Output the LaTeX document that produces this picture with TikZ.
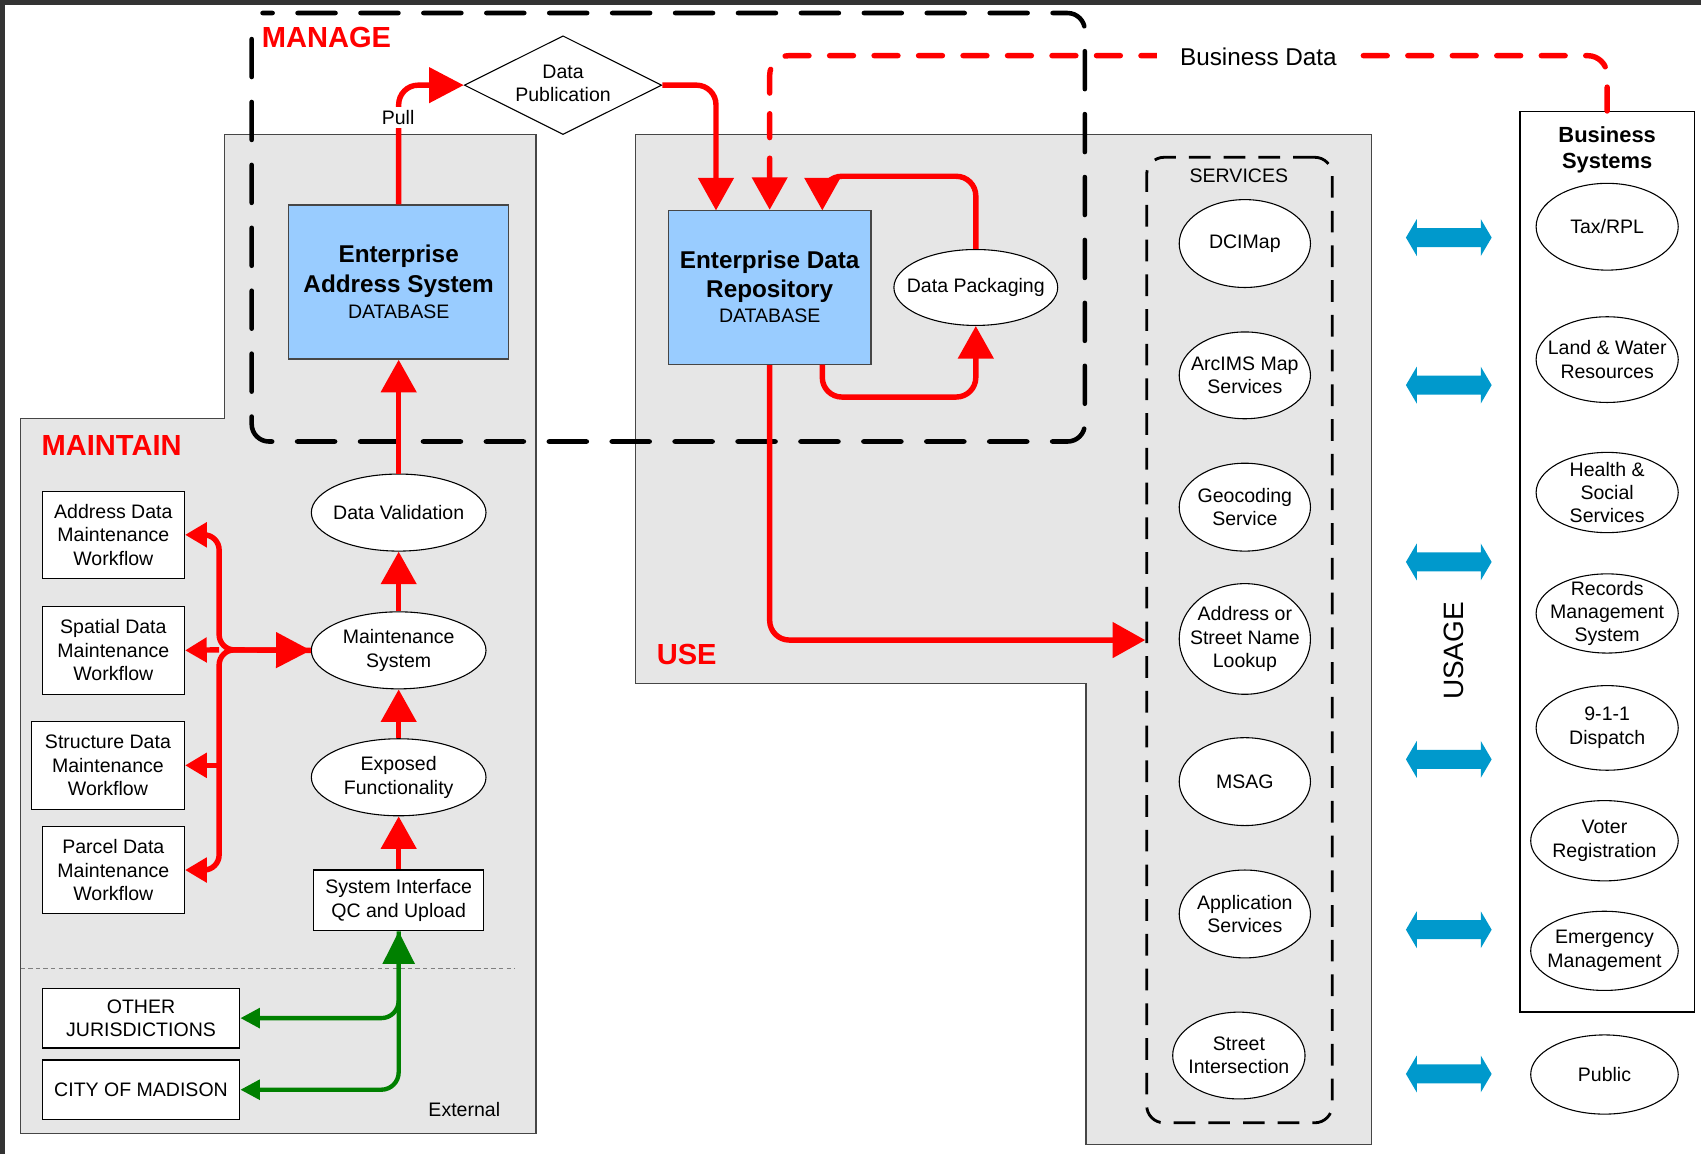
\documentclass[tikz,border=0pt]{standalone}
\usepackage{fontspec}
\setmainfont{Liberation Sans}
\usetikzlibrary{arrows.meta,shapes.geometric}
\definecolor{rd}{RGB}{255,0,0}
\definecolor{gr}{RGB}{0,128,0}
\definecolor{bl}{RGB}{0,153,204}
\definecolor{lb}{RGB}{153,204,255}
\definecolor{rg}{RGB}{230,230,230}
\definecolor{dk}{RGB}{51,51,51}
\definecolor{rb}{RGB}{70,70,70}
\newcommand\bluearrow[1]{%
  \fill[bl] (1296,#1) -- (1306,{#1-17}) -- (1306,{#1-8.75}) -- (1365,{#1-8.75}) -- (1365,{#1-17}) -- (1375,#1)
   -- (1365,{#1+17}) -- (1365,{#1+8.75}) -- (1306,{#1+8.75}) -- (1306,{#1+17}) -- cycle;}
\begin{document}
\begin{tikzpicture}[x=0.5pt,y=-0.5pt,
  tx/.style={font=\fontsize{9}{10.8}\selectfont, align=center, inner sep=0pt},
  bf/.style={font=\bfseries\fontsize{11.2}{13.5}\selectfont, align=center, inner sep=0pt},
  lbl/.style={text=rd, font=\bfseries\fontsize{13.4}{16}\selectfont, inner sep=0pt},
  ell/.style={draw=black, line width=0.5pt, ellipse, fill=white, inner sep=0pt},
  box/.style={draw=black, line width=0.6pt, fill=white, inner sep=0pt, align=center, font=\fontsize{9}{10.8}\selectfont},
  db/.style={draw=rb, line width=0.6pt, fill=lb, inner sep=0pt},
  region/.style={draw=rb, line width=0.6pt, fill=rg},
  rl/.style={draw=rd, line width=2.5pt},
  gl/.style={draw=gr, line width=2pt},
  bigtip/.style={-{Triangle[width=16pt,length=15pt]}},
  mdash/.style={draw=black, line width=2.1pt, line cap=round, dash pattern=on 17.5pt off 11.5pt},
  sdash/.style={draw=black, line width=1.3pt, dash pattern=on 10pt off 6pt},
  rdash/.style={draw=rd, line width=2.5pt, line cap=round, dash pattern=on 11pt off 9.5pt}]
\useasboundingbox (0,0) rectangle (1568,1064);
\fill[white] (0,0) rectangle (1568,1064);
\fill[dk] (0,0) rectangle (1568,5);
\fill[dk] (0,0) rectangle (5,1064);

% regions
\draw[region] (207,124) -- (494,124) -- (494,1045) -- (19,1045) -- (19,386) -- (207,386) -- cycle;
\draw[region] (586,124) -- (1264,124) -- (1264,1055) -- (1001,1055) -- (1001,630) -- (586,630) -- cycle;
\draw[gray, line width=0.6pt, dash pattern=on 2pt off 1.5pt] (19,893) -- (475,893);

% manage box
\draw[mdash, rounded corners=8pt] (232,36) -- (232,407) -- (1000,407) -- (1000,12) -- (242,12);

% labels
\node[lbl, anchor=west] (manage) at (241,35) {MANAGE};
\node[lbl, anchor=west] (maintain) at (38,411) {MAINTAIN};
\node[lbl, anchor=west] (use) at (605,603) {USE};
\node[rotate=90, font=\fontsize{12.9}{15}\selectfont, inner sep=0pt] (usage) at (1340,600) {USAGE};
\node[tx] (ext) at (428,1023) {External};

% services box
\node[sdash, rounded corners=8pt, minimum width=85.5pt, minimum height=445pt] (svc) at (1142.5,590) {};
\node[tx] (svct) at (1142,162) {SERVICES};

% business systems box
\node[draw=black, line width=0.7pt, fill=white, minimum width=80.5pt, minimum height=415pt, inner sep=0pt] (bs) at (1481.5,518) {};
\node[font=\bfseries\fontsize{10.1}{12}\selectfont, align=center, inner sep=0pt] (bst) at (1481.5,138) {Business\\Systems};

% databases
\node[db, minimum width=101.5pt, minimum height=71pt] (eas) at (367.5,260) {};
\node[bf] (eas1) at (367.5,250) {Enterprise\\Address System};
\node[tx] (eas2) at (367.5,287) {DATABASE};
\node[db, minimum width=93.5pt, minimum height=71pt] (edr) at (709.5,265) {};
\node[bf] (edr1) at (709.5,255) {Enterprise Data\\Repository};
\node[tx] (edr2) at (709.5,291) {DATABASE};

% diamond
\node[draw=black, line width=0.5pt, diamond, fill=white, inner sep=0pt, minimum width=91pt, minimum height=45.5pt] (dp) at (519,78.5) {};
\node[tx] (dpt) at (519,77) {Data\\Publication};

% data packaging
\node[ell, minimum width=75.5pt, minimum height=35pt] (dpk) at (899.5,265) {};
\node[tx] (dpkt) at (899.5,265) {Data Packaging};

% maintain column
\node[ell, minimum width=80.5pt, minimum height=35.5pt] (dv) at (367.5,472.5) {};
\node[tx] (dvt) at (dv) {Data Validation};
\node[ell, minimum width=80.5pt, minimum height=35.5pt] (ms) at (367.5,599.5) {};
\node[tx] (mst) at (ms) {Maintenance\\System};
\node[ell, minimum width=80.5pt, minimum height=35.5pt] (ef) at (367.5,716.5) {};
\node[tx] (eft) at (ef) {Exposed\\Functionality};
\node[box, minimum width=78.5pt, minimum height=28pt] (si) at (367.5,830) {System Interface\\QC and Upload};

\node[box, minimum width=65.5pt, minimum height=40pt] (addr) at (104.5,493) {Address Data\\Maintenance\\Workflow};
\node[box, minimum width=65.5pt, minimum height=40.5pt] (spat) at (104.5,599.5) {Spatial Data\\Maintenance\\Workflow};
\node[box, minimum width=70.5pt, minimum height=40.5pt] (struc) at (99.5,705.5) {Structure Data\\Maintenance\\Workflow};
\node[box, minimum width=65.5pt, minimum height=40pt] (parc) at (104.5,802) {Parcel Data\\Maintenance\\Workflow};
\node[box, minimum width=91pt, minimum height=27.5pt] (oth) at (130,938.5) {OTHER\\JURISDICTIONS};
\node[box, minimum width=91pt, minimum height=27.5pt] (city) at (130,1004.5) {CITY OF MADISON};

% services
\node[ell, minimum width=60.5pt, minimum height=40.5pt] (dci) at (1147.5,224.5) {};
\node[tx] (dcit) at (dci) {DCIMap};
\node[ell, minimum width=60.5pt, minimum height=40pt] (arc) at (1147.5,346) {};
\node[tx] (arct) at (arc) {ArcIMS Map\\Services};
\node[ell, minimum width=60.5pt, minimum height=40.5pt] (geo) at (1147.5,467.5) {};
\node[tx] (geot) at (geo) {Geocoding\\Service};
\node[ell, minimum width=60.5pt, minimum height=51pt] (addl) at (1147.5,589) {};
\node[tx] (addlt) at (addl) {Address or\\Street Name\\Lookup};
\node[ell, minimum width=60.5pt, minimum height=40.5pt] (msag) at (1147.5,720.5) {};
\node[tx] (msagt) at (msag) {MSAG};
\node[ell, minimum width=60.5pt, minimum height=40.5pt] (app) at (1147.5,842.5) {};
\node[tx] (appt) at (app) {Application\\Services};
\node[ell, minimum width=61pt, minimum height=40pt] (sti) at (1142,973) {};
\node[tx] (stit) at (sti) {Street\\Intersection};

% business systems
\node[ell, minimum width=65.5pt, minimum height=40pt] (tax) at (1481.5,209) {};
\node[tx] (taxt) at (tax) {Tax/RPL};
\node[ell, minimum width=65.5pt, minimum height=39.5pt] (land) at (1481.5,331.5) {};
\node[tx] (landt) at (land) {Land \& Water\\Resources};
\node[ell, minimum width=65.5pt, minimum height=37pt] (health) at (1481.5,454) {};
\node[tx] (healtht) at (health) {Health \&\\Social\\Services};
\node[ell, minimum width=65.5pt, minimum height=36.5pt] (rec) at (1481.5,565.5) {};
\node[tx] (rect) at (rec) {Records\\Management\\System};
\node[ell, minimum width=65.5pt, minimum height=39pt] (disp) at (1481.5,671) {};
\node[tx] (dispt) at (disp) {9-1-1\\Dispatch};
\node[ell, minimum width=68pt, minimum height=37pt] (voter) at (1479,775) {};
\node[tx] (votert) at (voter) {Voter\\Registration};
\node[ell, minimum width=68pt, minimum height=36.5pt] (emerg) at (1479,876.5) {};
\node[tx] (emergt) at (emerg) {Emergency\\Management};
\node[ell, minimum width=68pt, minimum height=36.5pt] (pub) at (1479,990.5) {};
\node[tx] (pubt) at (pub) {Public};

% blue usage arrows
\bluearrow{219}
\bluearrow{355}
\bluearrow{518}
\bluearrow{700}
\bluearrow{857}
\bluearrow{990}

% coordinates
\coordinate (bus) at (202,599);
\coordinate (e1) at (660,194);
\coordinate (e2) at (758,194);
\coordinate (e3) at (758,336);

% red connectors
\draw[rl, bigtip] (ms.north) -- (dv.south);
\draw[rl, bigtip] (ef.north) -- (ms.south);
\draw[rl, bigtip] (si.north) -- (ef.south);
\draw[rl, bigtip] (dv.north) -- (eas.south);
\draw[rl, rounded corners=9pt, -{Triangle[width=16pt,length=16pt]}] (eas.north) |- (dp.west);
\node[tx, fill=white, inner sep=1.5pt] (pull) at (367,108) {Pull};
\draw[rl, rounded corners=9pt, bigtip] (dp.east) -| (e1);
\draw[rl, rounded corners=9pt, bigtip] (dpk.north) -- ++(0,-67) -| (e2);
\draw[rl, rounded corners=9pt, bigtip] (e3) -- ++(0,30) -| (dpk.south);
\draw[rl, rounded corners=9pt, bigtip] (edr.south) |- (svc.west);

\draw[rl, rounded corners=7pt, {Triangle[width=11pt,length=10pt]}-{Triangle[width=16pt,length=16pt]}] (addr.east) -| (bus) -- (ms.west);
\draw[rl, rounded corners=7pt, {Triangle[width=11pt,length=10pt]}-] (parc.east) -| (bus) -- (ms.west);
\draw[rl, {Triangle[width=11pt,length=10pt]}-] (spat.east) -- (bus);
\draw[rl, {Triangle[width=11pt,length=10pt]}-] (struc.east) -- (struc.east -| bus);

% business data
\draw[rdash, rounded corners=9pt, bigtip] (bs.north) -- ++(0,-51) -| (edr.north);
\node[fill=white, font=\fontsize{11.2}{13}\selectfont, inner xsep=10.5pt, inner ysep=1pt] (bd) at (1160,52) {Business Data};

% green connectors
\draw[gl, rounded corners=8pt, {Triangle[width=14.5pt,length=15pt]}-{Triangle[width=9pt,length=9pt]}] (si.south) |- (city.east);
\draw[gl, rounded corners=8pt, -{Triangle[width=9pt,length=9pt]}] (si.south) |- (oth.east);
\end{tikzpicture}
\end{document}
